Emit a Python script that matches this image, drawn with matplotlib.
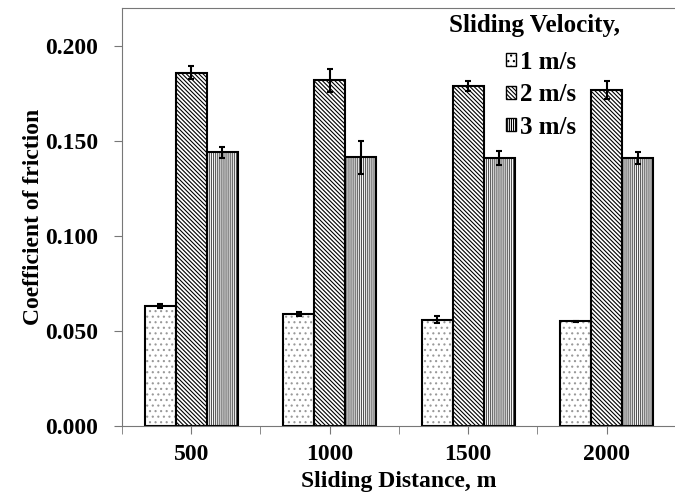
import numpy as np
import matplotlib.pyplot as plt

plt.rcParams['font.family'] = 'Liberation Serif'
plt.rcParams['font.weight'] = 'bold'
plt.rcParams['hatch.linewidth'] = 0.8

# Дистанции и скорости
distances = ['500', '1000', '1500', '2000']
velocities = ['1 m/s', '2 m/s', '3 m/s']

# Коэффициент трения
cof_1 = [0.063, 0.059, 0.056, 0.055]
cof_2 = [0.186, 0.182, 0.179, 0.177]
cof_3 = [0.144, 0.1415, 0.141, 0.141]

# Погрешности
err_1 = [0.001, 0.001, 0.0018, 0.0005]
err_2 = [0.0034, 0.006, 0.0025, 0.0047]
err_3 = [0.003, 0.0087, 0.0037, 0.003]

series = [cof_1, cof_2, cof_3]
errors = [err_1, err_2, err_3]
hatches = ['...', '\\' * 8, '|' * 8]
hatch_colors = ['#999999', 'black', '#555555']

fig = plt.figure(figsize=(6.75, 4.93), dpi=100)
ax = fig.add_axes([0.1807, 0.1359, 0.8207, 0.8479])

x = np.arange(len(distances))
w = 0.224
for i in range(3):
    ax.bar(x + (i - 1) * w, series[i], w, color='white', edgecolor=hatch_colors[i],
           hatch=hatches[i], linewidth=0, label=velocities[i])
    ax.bar(x + (i - 1) * w, series[i], w, color='none', edgecolor='black', linewidth=1.5)
    ax.errorbar(x + (i - 1) * w, series[i], yerr=errors[i], fmt='none', ecolor='black',
                elinewidth=1.5, capsize=2, capthick=1.5)

ax.set_xlim(-0.5, 3.5)
ax.set_ylim(0, 0.22)
ax.set_yticks(np.arange(0, 0.201, 0.05))
ax.set_yticklabels(['%.3f' % v for v in np.arange(0, 0.201, 0.05)])
ax.set_xticks(x)
ax.set_xticklabels(distances)
ax.set_xticks(np.arange(-0.5, 3.6, 1), minor=True)
ax.tick_params(axis='both', which='both', direction='out', colors='#777777', labelcolor='black',
               labelsize=17, length=6)
ax.tick_params(axis='x', pad=7)
ax.tick_params(axis='y', pad=11)
for s in ax.spines.values():
    s.set_color('#777777')

ax.set_xlabel('Sliding Distance, m', fontsize=17, fontweight='bold', labelpad=4)
ax.set_ylabel('Coefficient of friction', fontsize=17, fontweight='bold', labelpad=1)

# Легенда
ax.text(0.744, 0.958, 'Sliding Velocity,', transform=ax.transAxes, ha='center', va='center',
        fontsize=18, fontweight='bold')
leg = ax.legend(loc='upper left', bbox_to_anchor=(0.693, 0.898), frameon=False, fontsize=18,
                borderaxespad=0, borderpad=0,
                handlelength=0.42, handleheight=0.42, handletextpad=0.15, labelspacing=0.38)
for h in leg.legend_handles:
    h.set_linewidth(1.0)
    h.set_edgecolor('black')

fig.savefig('out.png', dpi=100)
